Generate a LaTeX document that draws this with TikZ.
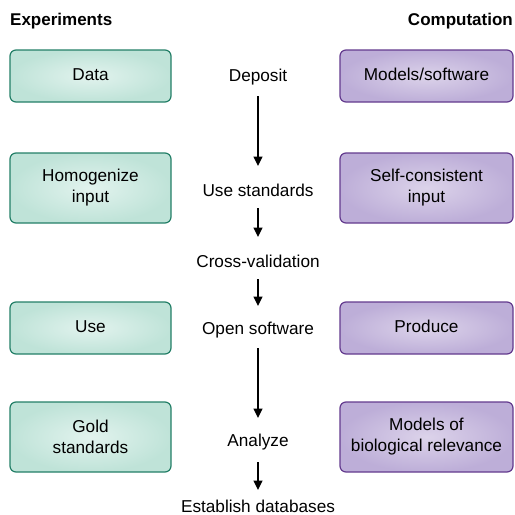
\documentclass[tikz,border=0pt]{standalone}
\usepackage{fontspec}
\setmainfont{Liberation Sans}
\usetikzlibrary{arrows.meta}
\definecolor{gin}{HTML}{E2F3EE}
\definecolor{gout}{HTML}{BFE3D8}
\definecolor{gline}{HTML}{237F67}
\definecolor{pin}{HTML}{DCD3EA}
\definecolor{pout}{HTML}{BDAED8}
\definecolor{pline}{HTML}{633A8E}
\tikzset{
  base/.style={font=\fontsize{17.2}{21}\selectfont, inner sep=0pt, align=center},
  one/.style={text height=12.5pt, text depth=3.5pt},
  gbox/.style={base, rounded corners=6pt, draw=gline, line width=1.2pt, inner color=gin, outer color=gout, minimum width=161pt},
  pbox/.style={base, rounded corners=6pt, draw=pline, line width=1.2pt, inner color=pin, outer color=pout, minimum width=173pt},
  short/.style={one, minimum height=52pt},
  tall/.style={minimum height=70pt},
  mid/.style={base, one},
  ttl/.style={font=\bfseries\fontsize{17}{20}\selectfont, inner sep=0pt, text height=12.5pt, text depth=3.5pt},
  arr/.style={-{Triangle[width=9pt,length=9.5pt]}, line width=1.5pt}
}
\begin{document}
\begin{tikzpicture}[x=1pt,y=-1pt]
\useasboundingbox (0,0) rectangle (515,515);
\node[ttl, anchor=west] (exp) at (10,21) {Experiments};
\node[ttl, anchor=east] (comp) at (513,21) {Computation};

\node[gbox, short] (data) at (90.5,76) {Data};
\node[gbox, tall] (homog) at (90.5,188) {Homogenize\\input};
\node[gbox, short] (use) at (90.5,328) {Use};
\node[gbox, tall] (gold) at (90.5,437) {Gold\\standards};

\node[pbox, short] (models) at (426.5,76) {Models/software};
\node[pbox, tall] (selfc) at (426.5,188) {Self-consistent\\input};
\node[pbox, short] (produce) at (426.5,328) {Produce};
\node[pbox, tall] (biol) at (426.5,437) {Models of\\biological relevance};

\node[mid] (dep) at (258,77) {Deposit};
\node[mid] (std) at (258,192) {Use standards};
\node[mid] (cross) at (258,263) {Cross-validation};
\node[mid] (open) at (258,330) {Open software};
\node[mid] (anal) at (258,442) {Analyze};
\node[mid] (estab) at (258,508) {Establish databases};

\draw[arr, shorten <=19pt, shorten >=26pt] (dep.center) -- (std.center);
\draw[arr, shorten <=16pt, shorten >=26pt] (std.center) -- (cross.center);
\draw[arr, shorten <=16pt, shorten >=24pt] (cross.center) -- (open.center);
\draw[arr, shorten <=18pt, shorten >=24pt] (open.center) -- (anal.center);
\draw[arr, shorten <=20pt, shorten >=18pt] (anal.center) -- (estab.center);
\end{tikzpicture}
\end{document}
